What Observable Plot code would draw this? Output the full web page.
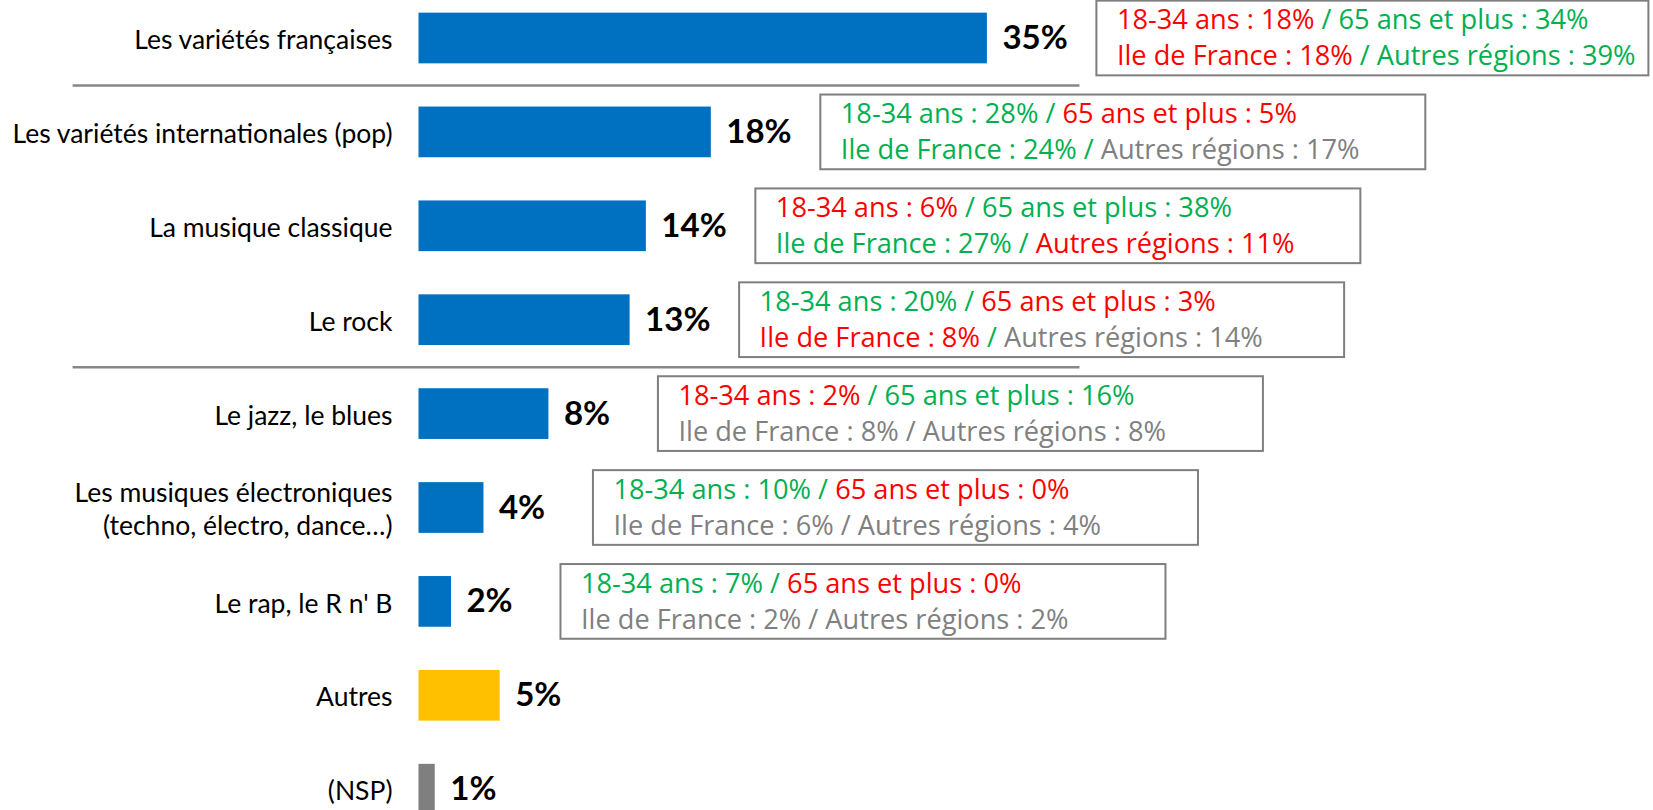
<!DOCTYPE html>
<html>
<head>
<meta charset="utf-8">
<script src="https://cdn.jsdelivr.net/npm/d3@7"></script>
<script src="https://cdn.jsdelivr.net/npm/@observablehq/plot@0.6"></script>
<style>
  html, body { margin: 0; padding: 0; background: #ffffff; overflow: hidden; }
  #chart svg { display: block; }
  #chart text, #chart tspan { white-space: pre; }
</style>
</head>
<body>
<div id="chart"></div>
<script>
// ---------- data ----------
const categories = [
  "Les variétés françaises",
  "Les variétés internationales (pop)",
  "La musique classique",
  "Le rock",
  "Le jazz, le blues",
  "Les musiques électroniques\n(techno, électro, dance…)",
  "Le rap, le R n' B",
  "Autres",
  "(NSP)"
];
const values = [35, 18, 14, 13, 8, 4, 2, 5, 1];
const groups = ["genre", "genre", "genre", "genre", "genre", "genre", "genre", "autres", "nsp"];

// sub-population results (first seven genres)
const age1834 = [18, 28, 6, 20, 2, 10, 7];
const age65plus = [34, 5, 38, 3, 16, 0, 0];
const ileDeFrance = [18, 24, 27, 8, 8, 6, 2];
const autresRegions = [39, 17, 11, 14, 8, 4, 2];
// significance vs total: "lower" (red), "higher" (green), "same" (grey)
const sig1834 = ["lower", "higher", "lower", "higher", "lower", "higher", "higher"];
const sig65plus = ["higher", "lower", "higher", "lower", "higher", "lower", "lower"];
const sigIdf = ["lower", "higher", "higher", "lower", "same", "same", "same"];
const sigRegions = ["higher", "same", "lower", "same", "same", "same", "same"];

const separatorsAfter = ["Les variétés françaises", "Le rock"];

// ---------- styles ----------
const sigColor = {lower: "#FF0000", higher: "#00B050", same: "#808080"};
const PX_PER_PCT = 16.24;
const BOX_GAP = 109.5 / PX_PER_PCT;
const BOX_PAD = 20 / PX_PER_PCT;
const BOX_W = 605 / PX_PER_PCT;
const BOX_W_FIRST = 552 / PX_PER_PCT;
const STEP = 93.9;

const bars = categories.map((c, i) => ({cat: c, value: values[i], group: groups[i]}));

const boxes = age1834.map((_, i) => {
  const x1 = values[i] + BOX_GAP;
  return {cat: categories[i], x1, x2: x1 + (i === 0 ? BOX_W_FIRST : BOX_W), tx: x1 + BOX_PAD};
});

function seg(label, v, s) { return {text: `${label} : ${v}%`, color: sigColor[s]}; }
function slash(a, b) { return {text: " / ", color: (a === "same" && b === "same") ? sigColor.same : sigColor.higher}; }

const line1 = boxes.map((b, i) => ({...b, segments: [
  seg("18-34 ans", age1834[i], sig1834[i]), slash(sig1834[i], sig65plus[i]), seg("65 ans et plus", age65plus[i], sig65plus[i])
]}));
const line2 = boxes.map((b, i) => ({...b, segments: [
  seg("Ile de France", ileDeFrance[i], sigIdf[i]), slash(sigIdf[i], sigRegions[i]), seg("Autres régions", autresRegions[i], sigRegions[i])
]}));
line1.forEach(d => d.text = d.segments.map(s => s.text).join(""));
line2.forEach(d => d.text = d.segments.map(s => s.text).join(""));

const lineSets = {"box-line1": line1, "box-line2": line2};

const boxFont = "'Open Sans', sans-serif";
const boxFontSize = 27.2;

const chart = Plot.plot({
  width: 1653,
  height: 810,
  marginLeft: 418.5,
  marginRight: 1653 - 418.5 - 35 * PX_PER_PCT,
  marginTop: 0,
  marginBottom: 0,
  style: {fontFamily: "Lato, sans-serif", fontSize: "26.5px", color: "#000", background: "#fff"},
  x: {domain: [0, 35], axis: null},
  y: {domain: categories, range: [-30.55, -30.55 + STEP * 9.46], paddingInner: 0.46, paddingOuter: 0.46, round: false, label: null},
  color: {domain: ["genre", "autres", "nsp"], range: ["#0070C0", "#FFC000", "#7F7F7F"]},
  marks: [
    Plot.axisY({tickSize: 0, tickPadding: 26.5, fontSize: 26.5, lineHeight: 1.26, label: null, fill: "#000"}),
    Plot.ruleY(separatorsAfter, {y: d => d, dy: STEP / 2, x1: -21.3, x2: 40.7, stroke: "#878787", strokeWidth: 2.5}),
    Plot.barX(bars, {x: "value", y: "cat", fill: "group"}),
    Plot.text(bars, {x: "value", y: "cat", text: d => `${d.value}%`, dx: 15, textAnchor: "start",
      fontWeight: "bold", fontSize: 33, fill: "#000"}),
    Plot.rect(boxes, {x1: "x1", x2: "x2", y: "cat", insetTop: -12, insetBottom: -12,
      fill: "#fff", stroke: "#7F7F7F", strokeWidth: 2}),
    Plot.text(line1, {x: "tx", y: "cat", text: "text", dy: -18, textAnchor: "start",
      fontSize: boxFontSize, fontFamily: boxFont, fill: "#808080", ariaDescription: "box-line1"}),
    Plot.text(line2, {x: "tx", y: "cat", text: "text", dy: 18, textAnchor: "start",
      fontSize: boxFontSize, fontFamily: boxFont, fill: "#808080", ariaDescription: "box-line2"})
  ]
});

// colour the segments of each annotation line
const NS = "http://www.w3.org/2000/svg";
for (const [key, rows] of Object.entries(lineSets)) {
  const g = chart.querySelector(`g[aria-description="${key}"]`);
  if (!g) continue;
  g.querySelectorAll("text").forEach((t, i) => {
    const row = rows[i];
    if (!row) return;
    t.textContent = "";
    for (const s of row.segments) {
      const ts = document.createElementNS(NS, "tspan");
      ts.setAttribute("fill", s.color);
      ts.textContent = s.text;
      t.appendChild(ts);
    }
  });
}

document.getElementById("chart").appendChild(chart);
</script>
</body>
</html>
